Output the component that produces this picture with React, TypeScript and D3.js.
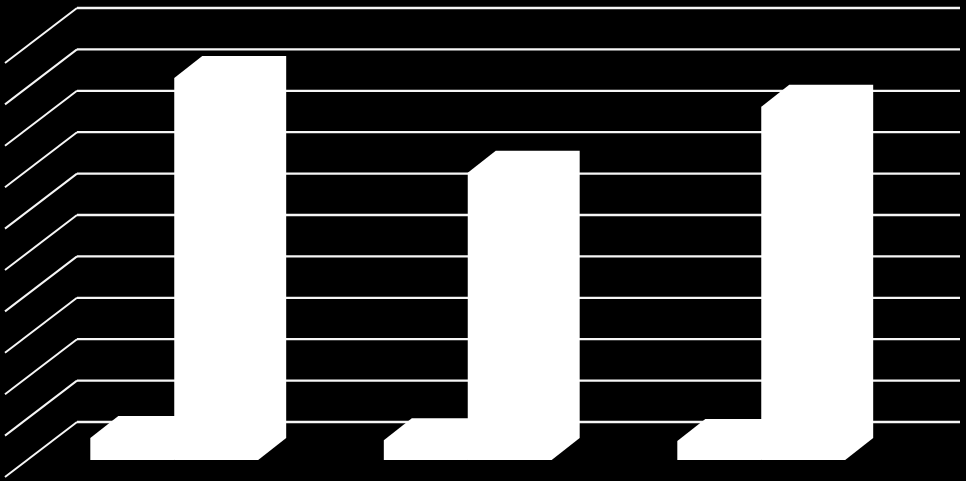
import * as d3 from 'd3';

const width = 966;
const height = 481;

// no labels in the picture, so the groups only get ids
const groups = ['g1', 'g2', 'g3'];
const seriesNames = ['low', 'high'];
const lowValues = [5.3, 4.8, 4.6];
const highValues = [92.3, 69.4, 85.3];
const tickValues = [0, 10, 20, 30, 40, 50, 60, 70, 80, 90, 100];

// oblique 3D projection
const barDepthX = 28;
const barDepthY = 22;
const wallDx = 49.5; // front of bars -> back wall
const wallDy = 38;
const floorDx = 22.5; // front of bars -> front edge of floor
const floorDy = 17;

const y = d3.scaleLinear().domain([0, 100]).range([460, 46]);
const x0 = d3.scaleBand<string>()
  .domain(groups)
  .range([27.5, 908])
  .paddingInner(0.428)
  .paddingOuter(0.214);
const x1 = d3.scaleBand<string>()
  .domain(seriesNames)
  .range([0, x0.bandwidth()]);

const line = d3.line();

function barPath(left: number, right: number, value: number) {
  const top = y(value);
  const bottom = y(0);
  return line([
    [left, bottom],
    [left, top],
    [left + barDepthX, top - barDepthY],
    [right + barDepthX, top - barDepthY],
    [right + barDepthX, bottom - barDepthY],
    [right, bottom],
  ]);
}

export default function App() {
  const wallLeft = x0.range()[0] + wallDx;
  const wallRight = 960;

  return (
    <svg
      width={width}
      height={height}
      style={{ position: 'absolute', left: 0, top: 0, display: 'block', background: '#000' }}
    >
      <rect width={width} height={height} fill="#000" />
      {tickValues.map((t) => (
        <g key={t} fill="none" stroke="#f6f6f6">
          <path
            d={line([
              [wallLeft, y(t) - wallDy],
              [wallRight, y(t) - wallDy],
            ]) ?? ''}
            strokeWidth={2.3}
          />
          <path
            d={line([
              [wallLeft, y(t) - wallDy],
              [wallLeft - wallDx - floorDx, y(t) + floorDy],
            ]) ?? ''}
            strokeWidth={2}
          />
        </g>
      ))}
      {groups.map((g, i) => {
        const start = x0(g) ?? 0;
        const lowLeft = start + (x1('low') ?? 0);
        const highLeft = start + (x1('high') ?? 0);
        return (
          <g key={g} fill="#fff">
            <path d={barPath(lowLeft, lowLeft + x1.bandwidth(), lowValues[i]) ?? ''} />
            <path d={barPath(highLeft, highLeft + x1.bandwidth(), highValues[i]) ?? ''} />
          </g>
        );
      })}
    </svg>
  );
}
